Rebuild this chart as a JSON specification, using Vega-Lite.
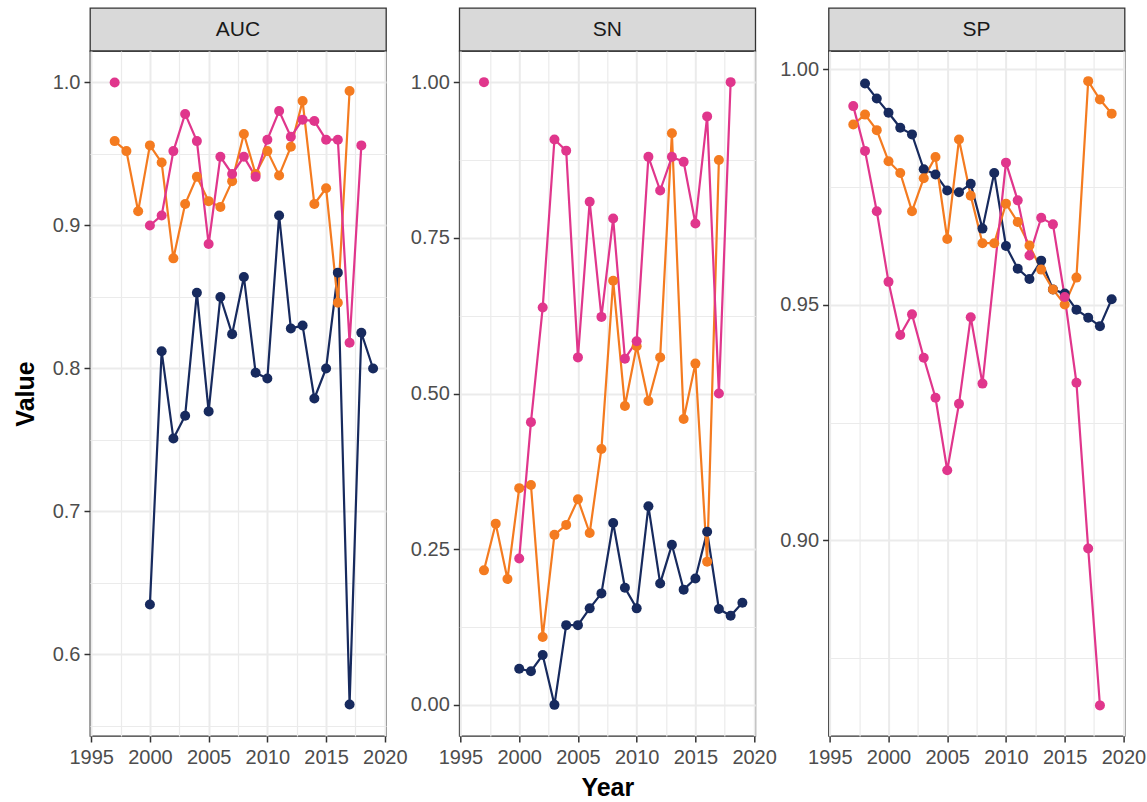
{
  "$schema": "https://vega.github.io/schema/vega-lite/v6.json",
  "background": "white",
  "padding": {"left": 12, "top": 7, "right": 0, "bottom": 0},
  "config": {
    "font": "Liberation Sans",
    "axis": {
      "labelFont": "Liberation Sans",
      "labelFontSize": 20,
      "labelColor": "#4D4D4D",
      "labelPadding": 4,
      "labelFlush": false,
      "labelOverlap": false,
      "tickColor": "#333333",
      "tickWidth": 1.5,
      "tickSize": 6,
      "domain": false,
      "grid": true,
      "gridColor": "#EBEBEB",
      "titleFont": "Liberation Sans",
      "titleFontSize": 25,
      "titleFontWeight": "bold",
      "titleColor": "#000000"
    },
    "axisX": {"labelPadding": 5}
  },
  "datasets": {
    "metrics": [
      {"metric": "AUC", "series": "A", "year": 2000, "value": 0.635},
      {"metric": "AUC", "series": "A", "year": 2001, "value": 0.812},
      {"metric": "AUC", "series": "A", "year": 2002, "value": 0.751},
      {"metric": "AUC", "series": "A", "year": 2003, "value": 0.767},
      {"metric": "AUC", "series": "A", "year": 2004, "value": 0.853},
      {"metric": "AUC", "series": "A", "year": 2005, "value": 0.770},
      {"metric": "AUC", "series": "A", "year": 2006, "value": 0.850},
      {"metric": "AUC", "series": "A", "year": 2007, "value": 0.824},
      {"metric": "AUC", "series": "A", "year": 2008, "value": 0.864},
      {"metric": "AUC", "series": "A", "year": 2009, "value": 0.797},
      {"metric": "AUC", "series": "A", "year": 2010, "value": 0.793},
      {"metric": "AUC", "series": "A", "year": 2011, "value": 0.907},
      {"metric": "AUC", "series": "A", "year": 2012, "value": 0.828},
      {"metric": "AUC", "series": "A", "year": 2013, "value": 0.830},
      {"metric": "AUC", "series": "A", "year": 2014, "value": 0.779},
      {"metric": "AUC", "series": "A", "year": 2015, "value": 0.800},
      {"metric": "AUC", "series": "A", "year": 2016, "value": 0.867},
      {"metric": "AUC", "series": "A", "year": 2017, "value": 0.565},
      {"metric": "AUC", "series": "A", "year": 2018, "value": 0.825},
      {"metric": "AUC", "series": "A", "year": 2019, "value": 0.800},

      {"metric": "AUC", "series": "B", "year": 1997, "value": 0.959},
      {"metric": "AUC", "series": "B", "year": 1998, "value": 0.952},
      {"metric": "AUC", "series": "B", "year": 1999, "value": 0.910},
      {"metric": "AUC", "series": "B", "year": 2000, "value": 0.956},
      {"metric": "AUC", "series": "B", "year": 2001, "value": 0.944},
      {"metric": "AUC", "series": "B", "year": 2002, "value": 0.877},
      {"metric": "AUC", "series": "B", "year": 2003, "value": 0.915},
      {"metric": "AUC", "series": "B", "year": 2004, "value": 0.934},
      {"metric": "AUC", "series": "B", "year": 2005, "value": 0.917},
      {"metric": "AUC", "series": "B", "year": 2006, "value": 0.913},
      {"metric": "AUC", "series": "B", "year": 2007, "value": 0.931},
      {"metric": "AUC", "series": "B", "year": 2008, "value": 0.964},
      {"metric": "AUC", "series": "B", "year": 2009, "value": 0.936},
      {"metric": "AUC", "series": "B", "year": 2010, "value": 0.952},
      {"metric": "AUC", "series": "B", "year": 2011, "value": 0.935},
      {"metric": "AUC", "series": "B", "year": 2012, "value": 0.955},
      {"metric": "AUC", "series": "B", "year": 2013, "value": 0.987},
      {"metric": "AUC", "series": "B", "year": 2014, "value": 0.915},
      {"metric": "AUC", "series": "B", "year": 2015, "value": 0.926},
      {"metric": "AUC", "series": "B", "year": 2016, "value": 0.846},
      {"metric": "AUC", "series": "B", "year": 2017, "value": 0.994},

      {"metric": "AUC", "series": "C", "year": 1997, "value": 1.000},
      {"metric": "AUC", "series": "C", "year": 1998, "value": null},
      {"metric": "AUC", "series": "C", "year": 1999, "value": null},
      {"metric": "AUC", "series": "C", "year": 2000, "value": 0.900},
      {"metric": "AUC", "series": "C", "year": 2001, "value": 0.907},
      {"metric": "AUC", "series": "C", "year": 2002, "value": 0.952},
      {"metric": "AUC", "series": "C", "year": 2003, "value": 0.978},
      {"metric": "AUC", "series": "C", "year": 2004, "value": 0.959},
      {"metric": "AUC", "series": "C", "year": 2005, "value": 0.887},
      {"metric": "AUC", "series": "C", "year": 2006, "value": 0.948},
      {"metric": "AUC", "series": "C", "year": 2007, "value": 0.936},
      {"metric": "AUC", "series": "C", "year": 2008, "value": 0.948},
      {"metric": "AUC", "series": "C", "year": 2009, "value": 0.934},
      {"metric": "AUC", "series": "C", "year": 2010, "value": 0.960},
      {"metric": "AUC", "series": "C", "year": 2011, "value": 0.980},
      {"metric": "AUC", "series": "C", "year": 2012, "value": 0.962},
      {"metric": "AUC", "series": "C", "year": 2013, "value": 0.974},
      {"metric": "AUC", "series": "C", "year": 2014, "value": 0.973},
      {"metric": "AUC", "series": "C", "year": 2015, "value": 0.960},
      {"metric": "AUC", "series": "C", "year": 2016, "value": 0.960},
      {"metric": "AUC", "series": "C", "year": 2017, "value": 0.818},
      {"metric": "AUC", "series": "C", "year": 2018, "value": 0.956},

      {"metric": "SN", "series": "A", "year": 2000, "value": 0.058},
      {"metric": "SN", "series": "A", "year": 2001, "value": 0.054},
      {"metric": "SN", "series": "A", "year": 2002, "value": 0.080},
      {"metric": "SN", "series": "A", "year": 2003, "value": 0.000},
      {"metric": "SN", "series": "A", "year": 2004, "value": 0.128},
      {"metric": "SN", "series": "A", "year": 2005, "value": 0.128},
      {"metric": "SN", "series": "A", "year": 2006, "value": 0.155},
      {"metric": "SN", "series": "A", "year": 2007, "value": 0.179},
      {"metric": "SN", "series": "A", "year": 2008, "value": 0.292},
      {"metric": "SN", "series": "A", "year": 2009, "value": 0.188},
      {"metric": "SN", "series": "A", "year": 2010, "value": 0.155},
      {"metric": "SN", "series": "A", "year": 2011, "value": 0.319},
      {"metric": "SN", "series": "A", "year": 2012, "value": 0.195},
      {"metric": "SN", "series": "A", "year": 2013, "value": 0.257},
      {"metric": "SN", "series": "A", "year": 2014, "value": 0.185},
      {"metric": "SN", "series": "A", "year": 2015, "value": 0.203},
      {"metric": "SN", "series": "A", "year": 2016, "value": 0.278},
      {"metric": "SN", "series": "A", "year": 2017, "value": 0.154},
      {"metric": "SN", "series": "A", "year": 2018, "value": 0.143},
      {"metric": "SN", "series": "A", "year": 2019, "value": 0.164},

      {"metric": "SN", "series": "B", "year": 1997, "value": 0.216},
      {"metric": "SN", "series": "B", "year": 1998, "value": 0.291},
      {"metric": "SN", "series": "B", "year": 1999, "value": 0.202},
      {"metric": "SN", "series": "B", "year": 2000, "value": 0.348},
      {"metric": "SN", "series": "B", "year": 2001, "value": 0.353},
      {"metric": "SN", "series": "B", "year": 2002, "value": 0.109},
      {"metric": "SN", "series": "B", "year": 2003, "value": 0.273},
      {"metric": "SN", "series": "B", "year": 2004, "value": 0.289},
      {"metric": "SN", "series": "B", "year": 2005, "value": 0.330},
      {"metric": "SN", "series": "B", "year": 2006, "value": 0.276},
      {"metric": "SN", "series": "B", "year": 2007, "value": 0.411},
      {"metric": "SN", "series": "B", "year": 2008, "value": 0.681},
      {"metric": "SN", "series": "B", "year": 2009, "value": 0.480},
      {"metric": "SN", "series": "B", "year": 2010, "value": 0.576},
      {"metric": "SN", "series": "B", "year": 2011, "value": 0.488},
      {"metric": "SN", "series": "B", "year": 2012, "value": 0.558},
      {"metric": "SN", "series": "B", "year": 2013, "value": 0.918},
      {"metric": "SN", "series": "B", "year": 2014, "value": 0.459},
      {"metric": "SN", "series": "B", "year": 2015, "value": 0.548},
      {"metric": "SN", "series": "B", "year": 2016, "value": 0.230},
      {"metric": "SN", "series": "B", "year": 2017, "value": 0.875},

      {"metric": "SN", "series": "C", "year": 1997, "value": 1.000},
      {"metric": "SN", "series": "C", "year": 1998, "value": null},
      {"metric": "SN", "series": "C", "year": 1999, "value": null},
      {"metric": "SN", "series": "C", "year": 2000, "value": 0.235},
      {"metric": "SN", "series": "C", "year": 2001, "value": 0.454},
      {"metric": "SN", "series": "C", "year": 2002, "value": 0.638},
      {"metric": "SN", "series": "C", "year": 2003, "value": 0.908},
      {"metric": "SN", "series": "C", "year": 2004, "value": 0.890},
      {"metric": "SN", "series": "C", "year": 2005, "value": 0.558},
      {"metric": "SN", "series": "C", "year": 2006, "value": 0.808},
      {"metric": "SN", "series": "C", "year": 2007, "value": 0.623},
      {"metric": "SN", "series": "C", "year": 2008, "value": 0.781},
      {"metric": "SN", "series": "C", "year": 2009, "value": 0.556},
      {"metric": "SN", "series": "C", "year": 2010, "value": 0.584},
      {"metric": "SN", "series": "C", "year": 2011, "value": 0.880},
      {"metric": "SN", "series": "C", "year": 2012, "value": 0.826},
      {"metric": "SN", "series": "C", "year": 2013, "value": 0.880},
      {"metric": "SN", "series": "C", "year": 2014, "value": 0.872},
      {"metric": "SN", "series": "C", "year": 2015, "value": 0.773},
      {"metric": "SN", "series": "C", "year": 2016, "value": 0.945},
      {"metric": "SN", "series": "C", "year": 2017, "value": 0.500},
      {"metric": "SN", "series": "C", "year": 2018, "value": 1.000},

      {"metric": "SP", "series": "A", "year": 1998, "value": 0.9970},
      {"metric": "SP", "series": "A", "year": 1999, "value": 0.9938},
      {"metric": "SP", "series": "A", "year": 2000, "value": 0.9908},
      {"metric": "SP", "series": "A", "year": 2001, "value": 0.9876},
      {"metric": "SP", "series": "A", "year": 2002, "value": 0.9862},
      {"metric": "SP", "series": "A", "year": 2003, "value": 0.9788},
      {"metric": "SP", "series": "A", "year": 2004, "value": 0.9777},
      {"metric": "SP", "series": "A", "year": 2005, "value": 0.9743},
      {"metric": "SP", "series": "A", "year": 2006, "value": 0.9739},
      {"metric": "SP", "series": "A", "year": 2007, "value": 0.9757},
      {"metric": "SP", "series": "A", "year": 2008, "value": 0.9662},
      {"metric": "SP", "series": "A", "year": 2009, "value": 0.9780},
      {"metric": "SP", "series": "A", "year": 2010, "value": 0.9625},
      {"metric": "SP", "series": "A", "year": 2011, "value": 0.9577},
      {"metric": "SP", "series": "A", "year": 2012, "value": 0.9555},
      {"metric": "SP", "series": "A", "year": 2013, "value": 0.9594},
      {"metric": "SP", "series": "A", "year": 2014, "value": 0.9533},
      {"metric": "SP", "series": "A", "year": 2015, "value": 0.9524},
      {"metric": "SP", "series": "A", "year": 2016, "value": 0.9490},
      {"metric": "SP", "series": "A", "year": 2017, "value": 0.9473},
      {"metric": "SP", "series": "A", "year": 2018, "value": 0.9455},
      {"metric": "SP", "series": "A", "year": 2019, "value": 0.9512},

      {"metric": "SP", "series": "B", "year": 1997, "value": 0.9883},
      {"metric": "SP", "series": "B", "year": 1998, "value": 0.9904},
      {"metric": "SP", "series": "B", "year": 1999, "value": 0.9871},
      {"metric": "SP", "series": "B", "year": 2000, "value": 0.9805},
      {"metric": "SP", "series": "B", "year": 2001, "value": 0.9780},
      {"metric": "SP", "series": "B", "year": 2002, "value": 0.9699},
      {"metric": "SP", "series": "B", "year": 2003, "value": 0.9769},
      {"metric": "SP", "series": "B", "year": 2004, "value": 0.9814},
      {"metric": "SP", "series": "B", "year": 2005, "value": 0.9640},
      {"metric": "SP", "series": "B", "year": 2006, "value": 0.9851},
      {"metric": "SP", "series": "B", "year": 2007, "value": 0.9732},
      {"metric": "SP", "series": "B", "year": 2008, "value": 0.9631},
      {"metric": "SP", "series": "B", "year": 2009, "value": 0.9631},
      {"metric": "SP", "series": "B", "year": 2010, "value": 0.9715},
      {"metric": "SP", "series": "B", "year": 2011, "value": 0.9676},
      {"metric": "SP", "series": "B", "year": 2012, "value": 0.9626},
      {"metric": "SP", "series": "B", "year": 2013, "value": 0.9575},
      {"metric": "SP", "series": "B", "year": 2014, "value": 0.9533},
      {"metric": "SP", "series": "B", "year": 2015, "value": 0.9501},
      {"metric": "SP", "series": "B", "year": 2016, "value": 0.9558},
      {"metric": "SP", "series": "B", "year": 2017, "value": 0.9975},
      {"metric": "SP", "series": "B", "year": 2018, "value": 0.9936},
      {"metric": "SP", "series": "B", "year": 2019, "value": 0.9906},

      {"metric": "SP", "series": "C", "year": 1997, "value": 0.9922},
      {"metric": "SP", "series": "C", "year": 1998, "value": 0.9827},
      {"metric": "SP", "series": "C", "year": 1999, "value": 0.9699},
      {"metric": "SP", "series": "C", "year": 2000, "value": 0.9549},
      {"metric": "SP", "series": "C", "year": 2001, "value": 0.9436},
      {"metric": "SP", "series": "C", "year": 2002, "value": 0.9480},
      {"metric": "SP", "series": "C", "year": 2003, "value": 0.9388},
      {"metric": "SP", "series": "C", "year": 2004, "value": 0.9303},
      {"metric": "SP", "series": "C", "year": 2005, "value": 0.9149},
      {"metric": "SP", "series": "C", "year": 2006, "value": 0.9290},
      {"metric": "SP", "series": "C", "year": 2007, "value": 0.9474},
      {"metric": "SP", "series": "C", "year": 2008, "value": 0.9333},
      {"metric": "SP", "series": "C", "year": 2010, "value": 0.9802},
      {"metric": "SP", "series": "C", "year": 2011, "value": 0.9722},
      {"metric": "SP", "series": "C", "year": 2012, "value": 0.9605},
      {"metric": "SP", "series": "C", "year": 2013, "value": 0.9685},
      {"metric": "SP", "series": "C", "year": 2014, "value": 0.9671},
      {"metric": "SP", "series": "C", "year": 2015, "value": 0.9517},
      {"metric": "SP", "series": "C", "year": 2016, "value": 0.9335},
      {"metric": "SP", "series": "C", "year": 2017, "value": 0.8983},
      {"metric": "SP", "series": "C", "year": 2018, "value": 0.8650}
    ]
  },
  "spacing": 1.3,
  "hconcat": [
    {
      "bounds": "flush",
      "spacing": 0,
      "vconcat": [
        {
          "width": 296,
          "height": 43,
          "data": {"values": [{"panel": "AUC"}]},
          "view": {"fill": "#D9D9D9", "stroke": "#333333", "strokeWidth": 1.3},
          "mark": {"type": "text", "fontSize": 21, "color": "#1A1A1A", "font": "Liberation Sans"},
          "encoding": {"text": {"field": "panel"}}
        },
        {
          "width": 296,
          "height": 685,
          "data": {"name": "metrics"},
          "transform": [{"filter": "datum.metric === 'AUC'"}],
          "view": {"stroke": "#333333", "strokeWidth": 1.3},
          "encoding": {
            "x": {
              "field": "year", "type": "quantitative",
              "scale": {"domain": [1994.9, 2020.1], "nice": false, "zero": false},
              "axis": {
                "title": null,
                "values": [1995, 1997.5, 2000, 2002.5, 2005, 2007.5, 2010, 2012.5, 2015, 2017.5, 2020],
                "labelExpr": "datum.value % 5 === 0 ? format(datum.value, 'd') : ''",
                "tickOpacity": {"condition": {"test": "datum.value % 5 === 0", "value": 1}, "value": 0},
                "gridWidth": {"condition": {"test": "datum.value % 5 === 0", "value": 2}, "value": 1.2}
              }
            },
            "y": {
              "field": "value", "type": "quantitative",
              "scale": {"domain": [0.543, 1.022], "nice": false, "zero": false},
              "axis": {
                "title": "Value",
                "titlePadding": 14,
                "values": [0.55, 0.6, 0.65, 0.7, 0.75, 0.8, 0.85, 0.9, 0.95, 1.0],
                "labelExpr": "abs(datum.value * 10 - round(datum.value * 10)) < 1e-6 ? format(datum.value, '.1f') : ''",
                "tickOpacity": {"condition": {"test": "abs(datum.value * 10 - round(datum.value * 10)) < 1e-6", "value": 1}, "value": 0},
                "gridWidth": {"condition": {"test": "abs(datum.value * 10 - round(datum.value * 10)) < 1e-6", "value": 2}, "value": 1.2}
              }
            },
            "color": {
              "field": "series", "type": "nominal",
              "scale": {"domain": ["A", "B", "C"], "range": ["#172A5E", "#F47B20", "#E0368C"]},
              "legend": null
            }
          },
          "layer": [
            {"mark": {"type": "line", "strokeWidth": 2.2, "invalid": "break-paths-filter-domains"}},
            {"mark": {"type": "circle", "size": 100, "opacity": 1}}
          ]
        }
      ]
    },
    {
      "bounds": "flush",
      "spacing": 0,
      "vconcat": [
        {
          "width": 296,
          "height": 43,
          "data": {"values": [{"panel": "SN"}]},
          "view": {"fill": "#D9D9D9", "stroke": "#333333", "strokeWidth": 1.3},
          "mark": {"type": "text", "fontSize": 21, "color": "#1A1A1A", "font": "Liberation Sans"},
          "encoding": {"text": {"field": "panel"}}
        },
        {
          "width": 296,
          "height": 685,
          "data": {"name": "metrics"},
          "transform": [{"filter": "datum.metric === 'SN'"}],
          "view": {"stroke": "#333333", "strokeWidth": 1.3},
          "encoding": {
            "x": {
              "field": "year", "type": "quantitative",
              "scale": {"domain": [1994.9, 2020.1], "nice": false, "zero": false},
              "axis": {
                "title": "Year",
                "titlePadding": 8,
                "values": [1995, 1997.5, 2000, 2002.5, 2005, 2007.5, 2010, 2012.5, 2015, 2017.5, 2020],
                "labelExpr": "datum.value % 5 === 0 ? format(datum.value, 'd') : ''",
                "tickOpacity": {"condition": {"test": "datum.value % 5 === 0", "value": 1}, "value": 0},
                "gridWidth": {"condition": {"test": "datum.value % 5 === 0", "value": 2}, "value": 1.2}
              }
            },
            "y": {
              "field": "value", "type": "quantitative",
              "scale": {"domain": [-0.05, 1.05], "nice": false, "zero": false},
              "axis": {
                "title": null,
                "values": [0, 0.125, 0.25, 0.375, 0.5, 0.625, 0.75, 0.875, 1.0],
                "labelExpr": "abs(datum.value * 4 - round(datum.value * 4)) < 1e-6 ? format(datum.value, '.2f') : ''",
                "tickOpacity": {"condition": {"test": "abs(datum.value * 4 - round(datum.value * 4)) < 1e-6", "value": 1}, "value": 0},
                "gridWidth": {"condition": {"test": "abs(datum.value * 4 - round(datum.value * 4)) < 1e-6", "value": 2}, "value": 1.2}
              }
            },
            "color": {
              "field": "series", "type": "nominal",
              "scale": {"domain": ["A", "B", "C"], "range": ["#172A5E", "#F47B20", "#E0368C"]},
              "legend": null
            }
          },
          "layer": [
            {"mark": {"type": "line", "strokeWidth": 2.2, "invalid": "break-paths-filter-domains"}},
            {"mark": {"type": "circle", "size": 100, "opacity": 1}}
          ]
        }
      ]
    },
    {
      "bounds": "flush",
      "spacing": 0,
      "vconcat": [
        {
          "width": 296,
          "height": 43,
          "data": {"values": [{"panel": "SP"}]},
          "view": {"fill": "#D9D9D9", "stroke": "#333333", "strokeWidth": 1.3},
          "mark": {"type": "text", "fontSize": 21, "color": "#1A1A1A", "font": "Liberation Sans"},
          "encoding": {"text": {"field": "panel"}}
        },
        {
          "width": 296,
          "height": 685,
          "data": {"name": "metrics"},
          "transform": [{"filter": "datum.metric === 'SP'"}],
          "view": {"stroke": "#333333", "strokeWidth": 1.3},
          "encoding": {
            "x": {
              "field": "year", "type": "quantitative",
              "scale": {"domain": [1994.9, 2020.1], "nice": false, "zero": false},
              "axis": {
                "title": null,
                "values": [1995, 1997.5, 2000, 2002.5, 2005, 2007.5, 2010, 2012.5, 2015, 2017.5, 2020],
                "labelExpr": "datum.value % 5 === 0 ? format(datum.value, 'd') : ''",
                "tickOpacity": {"condition": {"test": "datum.value % 5 === 0", "value": 1}, "value": 0},
                "gridWidth": {"condition": {"test": "datum.value % 5 === 0", "value": 2}, "value": 1.2}
              }
            },
            "y": {
              "field": "value", "type": "quantitative",
              "scale": {"domain": [0.8585, 1.0039], "nice": false, "zero": false},
              "axis": {
                "title": null,
                "values": [0.875, 0.9, 0.925, 0.95, 0.975, 1.0],
                "labelExpr": "abs(datum.value * 20 - round(datum.value * 20)) < 1e-6 ? format(datum.value, '.2f') : ''",
                "tickOpacity": {"condition": {"test": "abs(datum.value * 20 - round(datum.value * 20)) < 1e-6", "value": 1}, "value": 0},
                "gridWidth": {"condition": {"test": "abs(datum.value * 20 - round(datum.value * 20)) < 1e-6", "value": 2}, "value": 1.2}
              }
            },
            "color": {
              "field": "series", "type": "nominal",
              "scale": {"domain": ["A", "B", "C"], "range": ["#172A5E", "#F47B20", "#E0368C"]},
              "legend": null
            }
          },
          "layer": [
            {"mark": {"type": "line", "strokeWidth": 2.2, "invalid": "break-paths-filter-domains"}},
            {"mark": {"type": "circle", "size": 100, "opacity": 1}}
          ]
        }
      ]
    }
  ]
}
